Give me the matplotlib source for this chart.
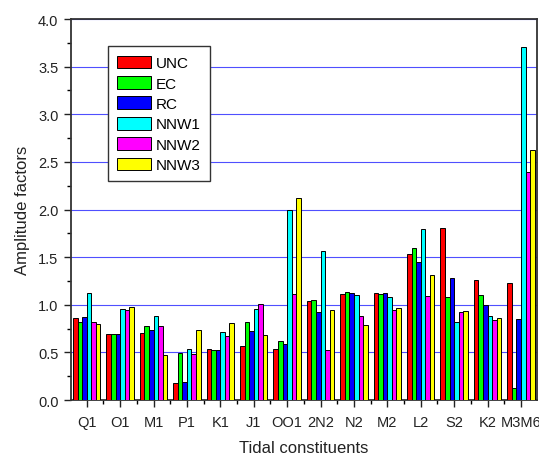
import matplotlib
matplotlib.use('Agg')
import matplotlib.pyplot as plt
import numpy as np

plt.rcParams['font.family'] = ['Liberation Sans', 'DejaVu Sans']

# tidal constituents
labels = ['Q1', 'O1', 'M1', 'P1', 'K1', 'J1', 'OO1', '2N2', 'N2', 'M2', 'L2', 'S2', 'K2', 'M3M6']

# amplitude factors per method
unc  = [0.86, 0.69, 0.70, 0.18, 0.54, 0.57, 0.54, 1.04, 1.11, 1.12, 1.53, 1.81, 1.26, 1.23]
ec   = [0.82, 0.69, 0.78, 0.49, 0.52, 0.82, 0.62, 1.05, 1.13, 1.11, 1.60, 1.08, 1.10, 0.13]
rc   = [0.87, 0.69, 0.73, 0.19, 0.52, 0.72, 0.59, 0.92, 1.12, 1.12, 1.45, 1.28, 1.00, 0.85]
nnw1 = [1.12, 0.96, 0.88, 0.54, 0.71, 0.96, 2.00, 1.56, 1.10, 1.08, 1.80, 0.82, 0.88, 3.71]
nnw2 = [0.82, 0.95, 0.78, 0.48, 0.67, 1.01, 1.11, 0.53, 0.88, 0.95, 1.09, 0.92, 0.84, 2.39]
nnw3 = [0.80, 0.98, 0.47, 0.74, 0.81, 0.68, 2.12, 0.94, 0.79, 0.97, 1.31, 0.93, 0.86, 2.62]

series = [unc, ec, rc, nnw1, nnw2, nnw3]
names = ['UNC', 'EC', 'RC', 'NNW1', 'NNW2', 'NNW3']
colors = ['#ff0000', '#00ff00', '#0000ff', '#00ffff', '#ff00ff', '#ffff00']

fig = plt.figure(figsize=(5.39, 4.56), dpi=100)
ax = fig.add_axes([0.1317, 0.1206, 0.8646, 0.8355])

x = np.arange(len(labels))
w = 0.137
for i, (vals, name, c) in enumerate(zip(series, names, colors)):
    ax.bar(x + (i - 2.5) * w, vals, width=w, color=c, edgecolor='black',
           linewidth=0.7, label=name, zorder=3)

# blue horizontal grid
for yv in np.arange(0.5, 4.01, 0.5):
    ax.axhline(yv, color='#3030ff', linewidth=0.8, alpha=0.85, zorder=1)

ax.set_xlim(-0.47, 13.48)
ax.set_ylim(0, 4.0)
ax.set_xticks(x)
ax.set_xticklabels(labels)
ax.set_xticks(x[:-1] + 0.5, minor=True)
ax.set_yticks(np.arange(0, 4.01, 0.5))
ax.set_yticklabels(['%.1f' % v for v in np.arange(0, 4.01, 0.5)])
ax.set_yticks(np.arange(0.25, 4.0, 0.5), minor=True)
ax.tick_params(axis='both', which='major', direction='out', length=5, width=1,
               labelsize=10.5, colors='#222222', pad=4)
ax.tick_params(axis='x', which='major', pad=6)
ax.tick_params(axis='both', which='minor', direction='out', length=3, width=1)

for s in ax.spines.values():
    s.set_color('#333333')
    s.set_linewidth(1.3)

ax.set_xlabel('Tidal constituents', fontsize=12, color='#222222', labelpad=8)
ax.set_ylabel('Amplitude factors', fontsize=12, color='#222222', labelpad=6)

leg = ax.legend(loc='upper left', bbox_to_anchor=(0.08, 0.928), fontsize=11,
                fancybox=False, edgecolor='#333333', framealpha=1,
                handlelength=2.2, handleheight=0.9, labelspacing=0.38,
                borderpad=0.6, handletextpad=0.3, borderaxespad=0)
leg.get_frame().set_linewidth(1.0)

fig.savefig('out.png', dpi=100)
